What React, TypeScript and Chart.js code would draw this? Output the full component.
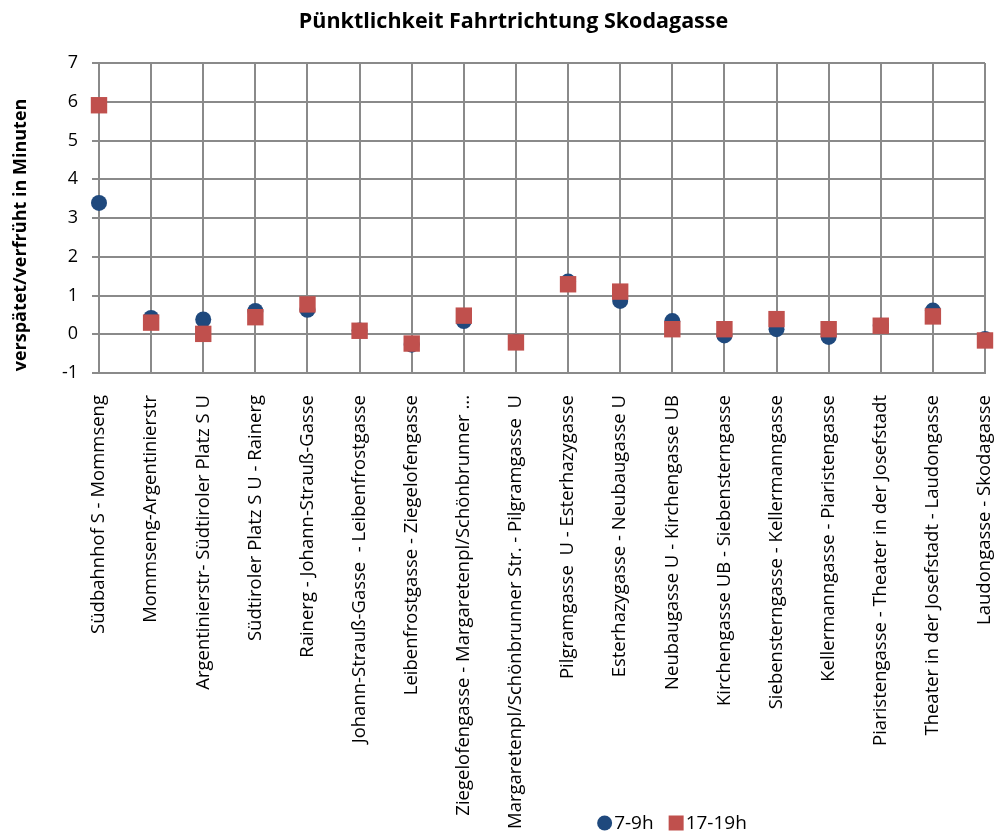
import React, { useEffect, useRef } from "react";
import { Chart, registerables } from "chart.js";

Chart.register(...registerables);

// Route segments along the line, direction Skodagasse
const categories = [
  "Südbahnhof S - Mommseng",
  "Mommseng-Argentinierstr",
  "Argentinierstr- Südtiroler Platz S U",
  "Südtiroler Platz S U - Rainerg",
  "Rainerg - Johann-Strauß-Gasse",
  "Johann-Strauß-Gasse  - Leibenfrostgasse",
  "Leibenfrostgasse - Ziegelofengasse",
  "Ziegelofengasse - Margaretenpl/Schönbrunner ...",
  "Margaretenpl/Schönbrunner Str. - Pilgramgasse  U",
  "Pilgramgasse  U - Esterhazygasse",
  "Esterhazygasse - Neubaugasse U",
  "Neubaugasse U - Kirchengasse UB",
  "Kirchengasse UB - Siebensterngasse",
  "Siebensterngasse - Kellermanngasse",
  "Kellermanngasse - Piaristengasse",
  "Piaristengasse - Theater in der Josefstadt",
  "Theater in der Josefstadt - Laudongasse",
  "Laudongasse - Skodagasse",
];

const seriesNames = ["7-9h", "17-19h"];

// Delay (+) / early (-) in minutes
const morning = [3.39, 0.42, 0.38, 0.6, 0.63, 0.1, -0.27, 0.34, -0.2, 1.36, 0.86, 0.34, -0.03, 0.13, -0.07, 0.22, 0.61, -0.12];
const evening = [5.91, 0.3, 0.01, 0.44, 0.77, 0.09, -0.24, 0.48, -0.21, 1.29, 1.1, 0.13, 0.13, 0.39, 0.13, 0.22, 0.46, -0.16];

const yMin = -1;
const yMax = 7;

const chartTitle = "Pünktlichkeit Fahrtrichtung Skodagasse";
const yAxisTitle = "verspätet/verfrüht in Minuten";

const BLUE = "#1F497D";
const RED = "#C0504D";
const GRID = "#8a8a8a";
const FONT = '"Open Sans", "DejaVu Sans", sans-serif';

const decorPlugin = {
  id: "decor",
  afterLayout(chart: any) {
    const t = chart.titleBlock;
    if (t) {
      t.left += 21;
      t.right += 21;
    }
  },
  afterDraw(chart: any) {
    const ctx: CanvasRenderingContext2D = chart.ctx;
    // vertical axis title
    ctx.save();
    ctx.font = `bold 18px ${FONT}`;
    ctx.fillStyle = "#000";
    ctx.textAlign = "center";
    ctx.textBaseline = "middle";
    ctx.translate(21, 235);
    ctx.rotate(-Math.PI / 2);
    ctx.fillText(yAxisTitle, 0, 0);
    ctx.restore();

    // legend
    ctx.save();
    ctx.font = `19px ${FONT}`;
    ctx.textBaseline = "middle";
    ctx.textAlign = "left";
    const cy = 823;
    const marker = 15;
    const gap = 2;
    const itemGap = 15;
    const ds = chart.data.datasets;
    const widths = ds.map((d: any) => ctx.measureText(d.label).width);
    const total =
      widths.reduce((a: number, w: number) => a + marker + gap + w, 0) + itemGap * (ds.length - 1);
    let x = 672 - total / 2;
    ds.forEach((d: any, i: number) => {
      ctx.fillStyle = d.backgroundColor;
      if (d.pointStyle === "circle") {
        ctx.beginPath();
        ctx.arc(x + marker / 2, cy, marker / 2, 0, Math.PI * 2);
        ctx.fill();
      } else {
        ctx.fillRect(x, cy - marker / 2, marker, marker);
      }
      x += marker + gap;
      ctx.fillStyle = "#000";
      ctx.fillText(d.label, x, cy + 1);
      x += widths[i] + itemGap;
    });
    ctx.restore();
  },
};

export default function App() {
  const canvasRef = useRef<HTMLCanvasElement | null>(null);

  useEffect(() => {
    let chart: Chart | null = null;
    let cancelled = false;
    const build = () => {
      if (cancelled || !canvasRef.current) return;
      chart = new Chart(canvasRef.current, {
        type: "line",
        data: {
          labels: categories,
          datasets: [
            {
              label: seriesNames[0],
              data: morning,
              showLine: false,
              pointStyle: "circle",
              pointRadius: 8,
              pointHoverRadius: 8,
              backgroundColor: BLUE,
              borderColor: BLUE,
              pointBorderWidth: 0,
              clip: false,
              order: 1,
            },
            {
              label: seriesNames[1],
              data: evening,
              showLine: false,
              pointStyle: "rect",
              pointRadius: 11.6,
              pointHoverRadius: 11.6,
              backgroundColor: RED,
              borderColor: RED,
              pointBorderWidth: 0,
              clip: false,
              order: 0,
            },
          ],
        },
        options: {
          responsive: false,
          animation: false,
          events: [],
          layout: { padding: { left: 0, right: 12, top: 0, bottom: 0 } },
          plugins: {
            legend: { display: false },
            tooltip: { enabled: false },
            title: {
              display: true,
              text: chartTitle,
              color: "#000",
              font: { family: FONT, size: 21.5, weight: "bold" },
              padding: { top: 8.6, bottom: 28.6 },
            },
          },
          scales: {
            x: {
              type: "category",
              offset: false,
              grid: { color: GRID, lineWidth: 2, drawTicks: false },
              border: { color: GRID, width: 2 },
              ticks: {
                autoSkip: false,
                maxRotation: 90,
                minRotation: 90,
                padding: 22,
                color: "#000",
                font: { family: FONT, size: 18.5 },
              },
              afterFit(scale: any) {
                scale.height = 461;
                scale.paddingLeft = 0;
                scale.paddingRight = 0;
              },
            },
            y: {
              min: yMin,
              max: yMax,
              grid: { color: GRID, lineWidth: 2, tickLength: 7 },
              border: { color: GRID, width: 2 },
              ticks: {
                stepSize: 1,
                padding: 14,
                color: "#000",
                font: { family: FONT, size: 18 },
              },
              afterFit(scale: any) {
                scale.width = 99;
              },
            },
          },
        },
        plugins: [decorPlugin],
      });
    };
    const fonts: any = (document as any).fonts;
    if (fonts && fonts.load) {
      Promise.all([
        fonts.load(`16px "Open Sans"`),
        fonts.load(`bold 16px "Open Sans"`),
      ])
        .catch(() => undefined)
        .then(build);
    } else {
      build();
    }
    return () => {
      cancelled = true;
      if (chart) chart.destroy();
    };
  }, []);

  return (
    <div style={{ position: "absolute", left: 0, top: 0, width: 997, height: 834, background: "#fff" }}>
      <canvas ref={canvasRef} width={997} height={834} style={{ display: "block" }} />
    </div>
  );
}
